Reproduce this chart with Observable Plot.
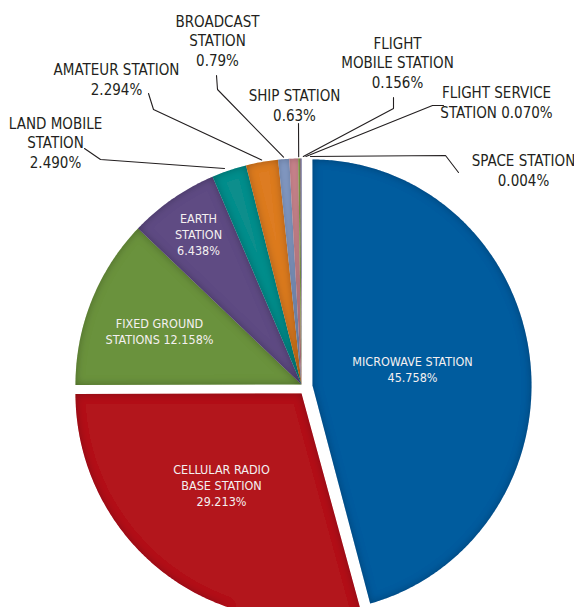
<!DOCTYPE html>
<html><head><meta charset="utf-8">
<script src="https://cdn.jsdelivr.net/npm/d3@7"></script>
<script src="https://cdn.jsdelivr.net/npm/@observablehq/plot@0.6"></script>
<style>
html,body{margin:0;padding:0;background:#fff;}
#chart{width:574px;height:607px;}
</style></head><body><div id="chart"></div>
<script>
// ---- data ----
const categories = ["MICROWAVE STATION","CELLULAR RADIO BASE STATION","FIXED GROUND STATIONS","EARTH STATION","LAND MOBILE STATION","AMATEUR STATION","BROADCAST STATION","SHIP STATION","FLIGHT MOBILE STATION","FLIGHT SERVICE STATION","SPACE STATION"];
const shares = [45.758, 29.213, 12.158, 6.438, 2.490, 2.294, 0.79, 0.63, 0.156, 0.070, 0.004];
const shareLabels = ["45.758%","29.213%","12.158%","6.438%","2.490%","2.294%","0.79%","0.63%","0.156%","0.070%","0.004%"];
const labelLines = [
  ["MICROWAVE STATION", "45.758%"],
  ["CELLULAR RADIO", "BASE STATION", "29.213%"],
  ["FIXED GROUND", "STATIONS 12.158%"],
  ["EARTH", "STATION", "6.438%"],
  ["LAND MOBILE", "STATION", "2.490%"],
  ["AMATEUR STATION", "2.294%"],
  ["BROADCAST", "STATION", "0.79%"],
  ["SHIP STATION", "0.63%"],
  ["FLIGHT", "MOBILE STATION", "0.156%"],
  ["FLIGHT SERVICE", "STATION 0.070%"],
  ["SPACE STATION", "0.004%"]
];
const colors = ["#005b9e","#b3121b","#6a923c","#5e4b83","#0e8e8c","#dd7b21","#879fca","#d78d96","#9bbb59","#8064a2","#4bacc6"];

// ---- layout (pixel offsets from the pie centre, not data) ----
const W = 574, H = 607, CX = 301, CY = 384, R = 226;
const explode = [[11, 1], [0, 9], [0,0],[0,0],[0,0],[0,0],[0,0],[0,0],[0,0],[0,0],[0,0]];
const xRadius = [219, 226, 226, 226, 226, 226, 226, 226, 226, 226, 226];
const inside = [true, true, true, true, false, false, false, false, false, false, false];
// label anchor (centre x, last baseline y) in page px
const labelPos = [[412,381],[221,505],[159,343],[198,254],[55,167],[116,94],[217,65],[294,120],[397,87],[496,117],[523,185]];
// leader polyline: start and elbow (page px); end is computed from the slice
const leaderPts = [null,null,null,null,
  [[84,148],[100,159]],
  [[148,93],[153,109]],
  [[216,75],[217,89]],
  [[298,123],[298,123]],
  [[393,97],[393,108]],
  [[443,105],[432,105]],
  [[458,172],[445,155]]
];
const leaderEndAdj = [0,0,0,0, -4,0,0, 5, 4, 5, 9];

const rows = categories.map((name, i) => ({name, share: shares[i], label: shareLabels[i], color: colors[i], i}));
const arcs = d3.pie().sort(null).value(d => d.share).startAngle(0).endAngle(2 * Math.PI)(rows);

const polys = [];
arcs.forEach((a, i) => {
  const [ox, oy] = explode[i];
  const d = a.data;
  polys.push({name: d.name, color: d.color, x: ox, y: oy});
  const n = Math.max(2, Math.ceil((a.endAngle - a.startAngle) / (Math.PI / 360)));
  for (let k = 0; k <= n; k++) {
    const t = a.startAngle + (a.endAngle - a.startAngle) * k / n;
    polys.push({name: d.name, color: d.color, x: ox + xRadius[i] * Math.sin(t), y: oy - R * Math.cos(t)});
  }
});

const leaders = [];
arcs.forEach((a, i) => {
  if (!leaderPts[i]) return;
  const m = (a.startAngle + a.endAngle) / 2;
  const [[sx, sy], [ex, ey]] = leaderPts[i];
  const name = a.data.name;
  leaders.push({name, x: sx - CX, y: sy - CY});
  leaders.push({name, x: ex - CX, y: ey - CY});
  leaders.push({name, x: (R + 2) * Math.sin(m) + leaderEndAdj[i], y: -(R + 2) * Math.cos(m)});
});

const texts = rows.map((d, i) => ({
  text: labelLines[i].join("\n"),
  x: labelPos[i][0] - CX,
  y: labelPos[i][1] - CY,
  inside: inside[i]
}));

const font = "'Liberation Sans Narrow','Arial Narrow','DejaVu Sans Condensed',sans-serif";

const plot = Plot.plot({
  width: W, height: H,
  margin: 0,
  x: {domain: [-CX, W - CX], range: [0, W], axis: null},
  y: {domain: [-CY, H - CY], range: [0, H], axis: null},
  color: {type: "identity"},
  style: {background: "#fff", fontFamily: font},
  marks: [
    Plot.line(polys, {x: "x", y: "y", z: "name", fill: "color", stroke: "none", curve: "linear-closed"}),
    Plot.line(leaders, {x: "x", y: "y", z: "name", stroke: "#231f20", strokeWidth: 1.1, curve: "linear", strokeLinejoin: "miter"}),
    Plot.text(texts.filter(d => !d.inside), {x: "x", y: "y", text: "text", lineAnchor: "bottom", lineHeight: 1.27, fontSize: 15, fill: "#231f20", textAnchor: "middle"}),
    Plot.text(texts.filter(d => d.inside), {x: "x", y: "y", text: "text", lineAnchor: "bottom", lineHeight: 1.28, fontSize: 12.5, fill: "#f4f0f0", textAnchor: "middle"})
  ]
});

const ns = "http://www.w3.org/2000/svg";
const defs = document.createElementNS(ns, "defs");
defs.innerHTML = `<filter id="inset" filterUnits="userSpaceOnUse" x="0" y="0" width="${W}" height="${H}">
 <feFlood flood-color="#000" flood-opacity="0.55" result="f"/>
 <feComposite in="f" in2="SourceAlpha" operator="out" result="o"/>
 <feGaussianBlur in="o" stdDeviation="4" result="b"/>
 <feComposite in="b" in2="SourceAlpha" operator="in" result="s"/>
 <feMerge><feMergeNode in="SourceGraphic"/><feMergeNode in="s"/></feMerge></filter>`;
plot.prepend(defs);
const sliceGroup = plot.querySelectorAll('g[aria-label="line"]')[0];
if (sliceGroup) sliceGroup.querySelectorAll("path").forEach(p => p.setAttribute("filter", "url(#inset)"));

document.getElementById("chart").appendChild(plot);
</script>
</body></html>
